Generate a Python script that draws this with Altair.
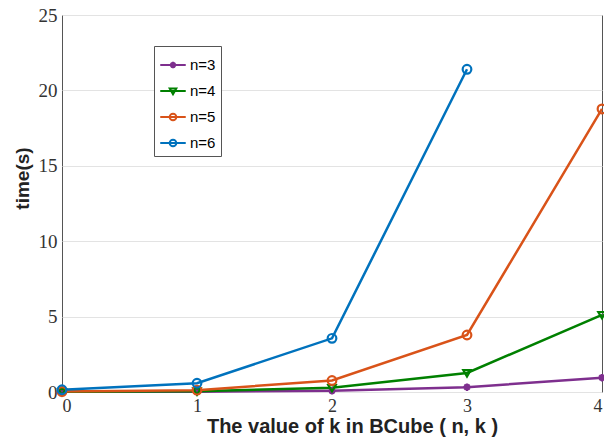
import altair as alt
import pandas as pd

k_values = [0, 1, 2, 3, 4]
series_names = ["n=3", "n=4", "n=5", "n=6"]
time_n3 = [0.01, 0.02, 0.08, 0.32, 0.95]
time_n4 = [0.01, 0.05, 0.28, 1.26, 5.12]
time_n5 = [0.03, 0.12, 0.76, 3.78, 18.77]
time_n6 = [0.15, 0.58, 3.56, 21.40]
colors = ["#7E2F8E", "#008000", "#D95319", "#0072BD"]

rows = []
for name, vals in zip(series_names, [time_n3, time_n4, time_n5, time_n6]):
    for k, t in zip(k_values, vals):
        rows.append({"k": k, "time": t, "n": name})
df = pd.DataFrame(rows)

# marker shapes (normalized paths)
marker_paths = {
    "n=3": "M-1,0L1,0M0,-1L0,1M-0.7,-0.7L0.7,0.7M-0.7,0.7L0.7,-0.7",
    "n=4": "M-1,-0.75L1,-0.75L0,0.95Z",
    "n=5": "circle",
    "n=6": "circle",
}
legend_paths = [
    "M-1,0L1,0M-0.26,0L0.26,0M0,-0.26L0,0.26M-0.18,-0.18L0.18,0.18M-0.18,0.18L0.18,-0.18",
    "M-1,0L1,0M-0.26,-0.2L0.26,-0.2L0,0.26Z",
    "M-1,0L1,0M-0.26,0A0.26,0.26 0 1,0 0.26,0A0.26,0.26 0 1,0 -0.26,0",
    "M-1,0L1,0M-0.26,0A0.26,0.26 0 1,0 0.26,0A0.26,0.26 0 1,0 -0.26,0",
]

x_enc = alt.X("k:Q", scale=alt.Scale(domain=[0, 4], nice=False),
              axis=alt.Axis(title="The value of k in BCube ( n, k )", values=k_values,
                            grid=False, format="d", titleX=290))
y_enc = alt.Y("time:Q", scale=alt.Scale(domain=[0, 25], nice=False),
              axis=alt.Axis(title="time(s)", values=[0, 5, 10, 15, 20, 25], grid=True,
                            titleY=163))

layers = []
for name, col in zip(series_names, colors):
    sub = df[df["n"] == name]
    base = alt.Chart(sub)
    layers.append(base.mark_line(strokeWidth=2.5, color=col).encode(x=x_enc, y=y_enc))
for name, col in zip(series_names, colors):
    sub = df[df["n"] == name]
    base = alt.Chart(sub)
    size = 75 if marker_paths[name] == "circle" else 55
    layers.append(base.mark_point(shape=marker_paths[name], color=col, filled=False,
                                  strokeWidth=2.2, size=size, opacity=1).encode(x=x_enc, y=y_enc))

legend_layer = alt.Chart(df).mark_point(opacity=0, filled=False).encode(
    x=x_enc, y=y_enc,
    color=alt.Color("n:N", scale=alt.Scale(domain=series_names, range=colors),
                    legend=alt.Legend(title=None, orient="none", legendX=92, legendY=31,
                                      symbolSize=650, symbolStrokeWidth=2, symbolOpacity=1,
                                      labelFont="Liberation Sans", labelFontSize=15,
                                      labelColor="#000000", labelOffset=3,
                                      rowPadding=4, padding=5,
                                      strokeColor="#555555", fillColor="white",
                                      cornerRadius=0)),
    shape=alt.Shape("n:N", scale=alt.Scale(domain=series_names, range=legend_paths)),
)
layers.append(legend_layer)

chart = alt.layer(*layers).properties(
    width=540, height=377,
    padding={"left": 62, "top": 15, "right": 2, "bottom": 46},
    autosize="none",
).configure_view(stroke="#555555", strokeWidth=1).configure_axis(
    domain=False, ticks=False,
    labelFont="Liberation Serif", labelFontSize=19, labelColor="#333333",
    titleFont="Liberation Sans", titleFontWeight="bold", titleColor="#222222",
    gridColor="#e3e3e3", gridWidth=1,
).configure_axisX(labelPadding=5, labelFontSize=18, titleFontSize=20, titlePadding=1).configure_axisY(
    labelPadding=5, titleFontSize=19, titlePadding=6)

chart.save("out.html", embed_options={"renderer": "svg", "actions": False})
